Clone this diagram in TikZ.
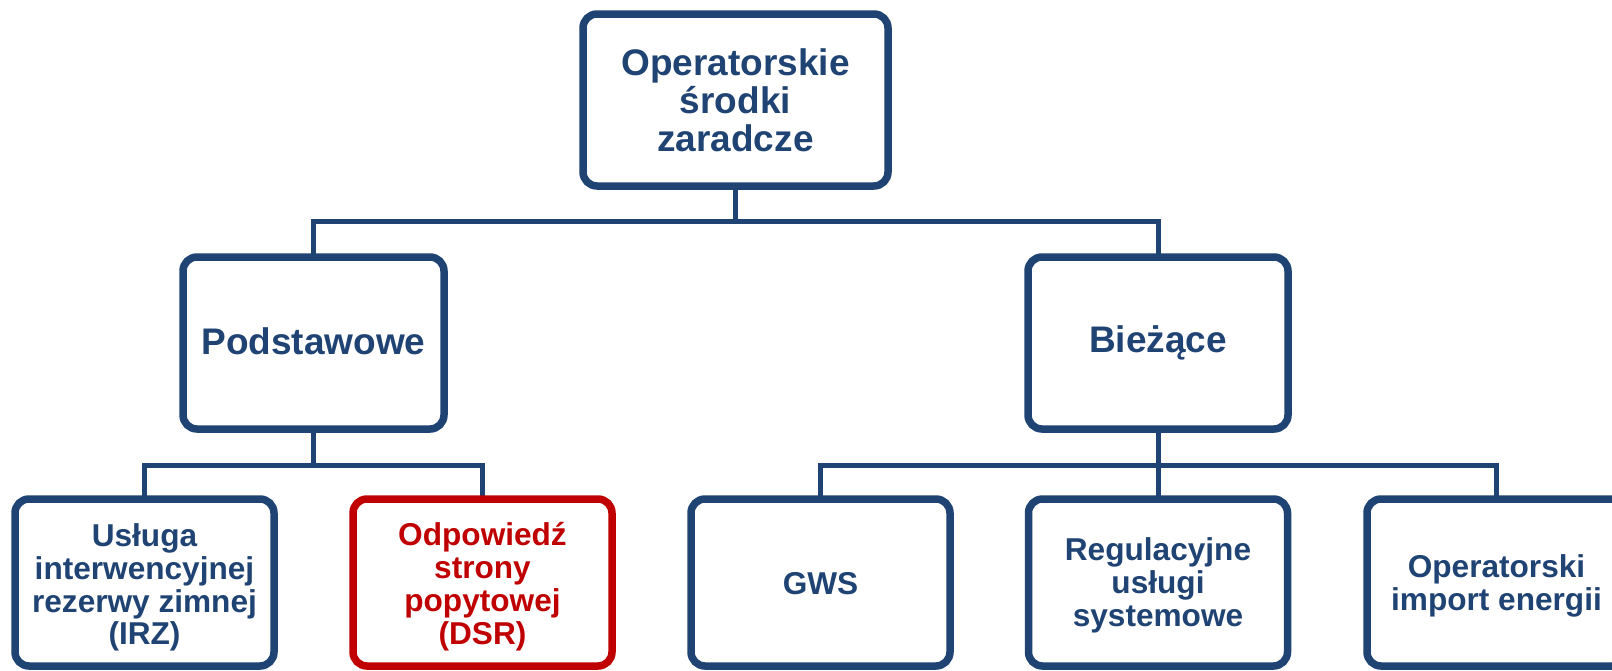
\documentclass[tikz,border=0pt]{standalone}
\usepackage{fontspec}
\setmainfont{Liberation Sans}
\usetikzlibrary{backgrounds}
\definecolor{navy}{HTML}{1F4373}
\definecolor{dsrred}{HTML}{C00000}
\tikzset{
  box/.style={draw=navy, fill=white, line width=7.5pt, rounded corners=14pt,
    inner sep=0pt, outer sep=0pt},
  bigbox/.style={box, minimum width=260pt, minimum height=172pt},
  smallbox/.style={box, minimum width=259pt, minimum height=167pt},
  redbox/.style={smallbox, draw=dsrred},
  bigtxt/.style={text=navy, align=center, inner sep=0pt, font=\fontsize{37}{38}\selectfont\bfseries},
  smalltxt/.style={text=navy, align=center, inner sep=0pt, font=\fontsize{31.6}{32.8}\selectfont\bfseries},
  redtxt/.style={smalltxt, text=dsrred},
  conn/.style={draw=navy, line width=5pt}
}
\begin{document}
\begin{tikzpicture}[x=1pt, y=-1pt]
\useasboundingbox (0,0) rectangle (1612,670);
\clip (0,0) rectangle (1612,670);

\coordinate (b1) at (735.5,221);
\coordinate (b2) at (313.5,465);
\coordinate (b3) at (1158,465);

\node[bigbox, minimum width=305pt] (top) at (735.5,100) {};
\node[bigbox, minimum width=261pt] (pod) at (313.5,343) {};
\node[bigbox] (biez) at (1158,343) {};
\node[smallbox] (irz) at (144.5,582.5) {};
\node[redbox] (dsr) at (482.5,582.5) {};
\node[smallbox] (gws) at (820.5,582.5) {};
\node[smallbox] (reg) at (1158,582.5) {};
\node[smallbox] (op) at (1496.5,582.5) {};

\node[bigtxt] (topt) at (top.center) {Operatorskie\\środki\\zaradcze};
\node[bigtxt] (podt) at ([yshift=2pt]pod.center) {Podstawowe};
\node[bigtxt] (biezt) at (biez.center) {Bieżące};
\node[smalltxt] (irzt) at ([yshift=-5pt]irz.center) {Usługa\\interwencyjnej\\rezerwy zimnej\\(IRZ)};
\node[redtxt] (dsrt) at ([yshift=-4pt]dsr.center) {Odpowiedź\\strony\\popytowej\\(DSR)};
\node[smalltxt] (gwst) at ([yshift=-1pt]gws.center) {GWS};
\node[smalltxt] (regt) at ([yshift=-3pt]reg.center) {Regulacyjne\\usługi\\systemowe};
\node[smalltxt] (opt) at ([yshift=-3pt]op.center) {Operatorski\\import energii};

\begin{scope}[on background layer]
\fill[white] (0,0) rectangle (1612,670);
\draw[conn] (top.south) -- (b1);
\draw[conn] (pod.north) |- (b1) -| (biez.north);
\draw[conn] (pod.south) -- (b2);
\draw[conn] (irz.north) |- (b2) -| (dsr.north);
\draw[conn] (biez.south) -- (b3);
\draw[conn] (gws.north) |- (b3) -| (op.north);
\draw[conn] (reg.north) -- (b3);
\end{scope}
\end{tikzpicture}
\end{document}
